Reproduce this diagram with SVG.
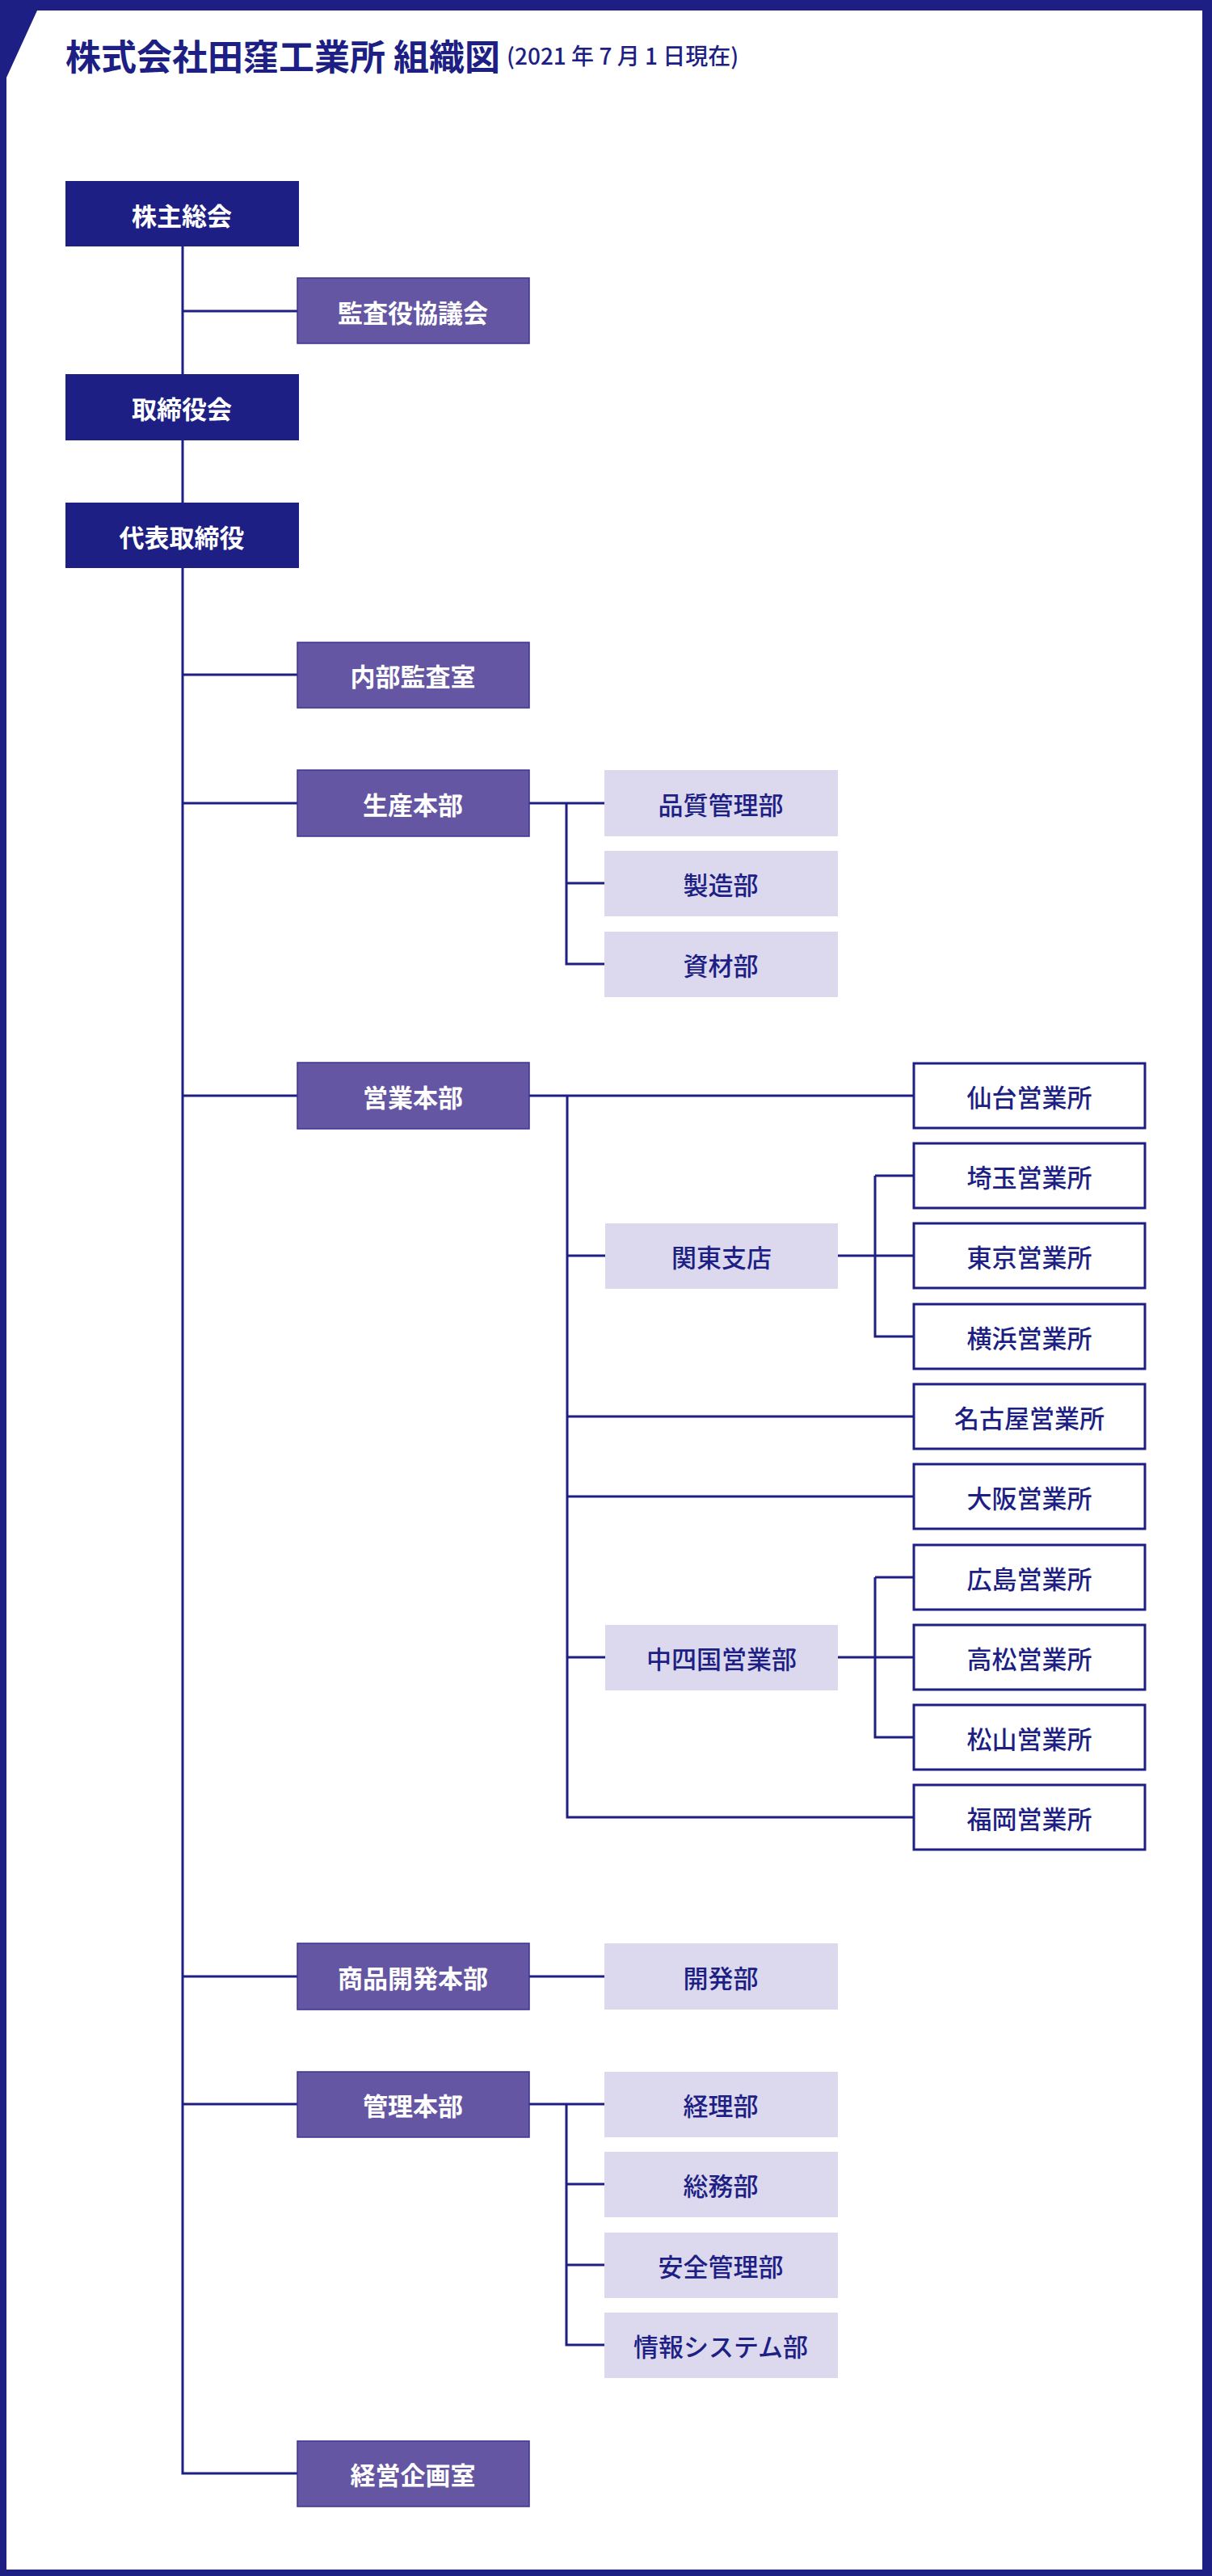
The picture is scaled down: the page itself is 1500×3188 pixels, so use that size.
<svg xmlns="http://www.w3.org/2000/svg" width="1500" height="3188" viewBox="0 0 1500 3188">
<style>
text{font-family:"Noto Sans CJK JP","Noto Sans CJK SC",sans-serif;text-anchor:middle;dominant-baseline:central;font-size:31px}
.d rect{fill:#1e1f84}.d text{fill:#fff;font-weight:bold}
.m rect{fill:#6556a3;stroke:#3d3490;stroke-width:1.5}.m text{fill:#fff;font-weight:bold}
.l rect{fill:#dcd9ee}.l text{fill:#1e1f84;font-weight:500}
.w rect{fill:#fff;stroke:#1e1f84;stroke-width:3}.w text{fill:#1e1f84;font-weight:500}
#conn path{fill:none;stroke:#1e1f84;stroke-width:3}
</style>
<rect width="1500" height="3188" fill="#1e1f84"/>
<polygon points="46,13 1488,13 1488,3180 8,3180 8,96" fill="#fff"/>
<text x="81" y="68" style="text-anchor:start;font-size:44px;font-weight:bold;fill:#1e1f84">株式会社田窪工業所 組織図<tspan style="font-size:28px;font-weight:500" dx="8">(2021 年 7 月 1 日現在)</tspan></text>
<g id="conn">
<path d="M226 305V3061H368M226 385H368M226 835H368M226 994H368M226 1356H368M226 2446H368M226 2604H368"/>
<path d="M655 994H748M701 994V1193H748M701 1093H748"/>
<path d="M655 1356H1131M702 1356V2249H1131M702 1554H749M702 1753H1131M702 1852H1131M702 2051H749M702 2249H1131"/>
<path d="M1037 1554H1131M1083 1455V1654H1131M1083 1455H1131"/>
<path d="M1037 2051H1131M1083 1952V2150H1131M1083 1952H1131"/>
<path d="M655 2446H748"/>
<path d="M655 2604H748M701 2604V2902H748M701 2703H748M701 2803H748"/>
</g>
<g id="n1" class="d"><rect x="81" y="224" width="289" height="81"/><text x="225" y="265">株主総会</text></g>
<g id="n2" class="m"><rect x="368" y="344" width="287" height="81"/><text x="511" y="385">監査役協議会</text></g>
<g id="n3" class="d"><rect x="81" y="463" width="289" height="82"/><text x="225" y="504">取締役会</text></g>
<g id="n4" class="d"><rect x="81" y="622" width="289" height="81"/><text x="225" y="663">代表取締役</text></g>
<g id="n5" class="m"><rect x="368" y="795" width="287" height="81"/><text x="511" y="835">内部監査室</text></g>
<g id="n6" class="m"><rect x="368" y="953" width="287" height="82"/><text x="511" y="994">生産本部</text></g>
<g id="n7" class="l"><rect x="748" y="953" width="289" height="82"/><text x="892" y="994">品質管理部</text></g>
<g id="n8" class="l"><rect x="748" y="1053" width="289" height="81"/><text x="892" y="1093">製造部</text></g>
<g id="n9" class="l"><rect x="748" y="1153" width="289" height="81"/><text x="892" y="1193">資材部</text></g>
<g id="n10" class="m"><rect x="368" y="1315" width="287" height="82"/><text x="511" y="1356">営業本部</text></g>
<g id="n11" class="w"><rect x="1131" y="1316" width="286" height="80"/><text x="1274" y="1356">仙台営業所</text></g>
<g id="n12" class="w"><rect x="1131" y="1415" width="286" height="80"/><text x="1274" y="1455">埼玉営業所</text></g>
<g id="n13" class="l"><rect x="749" y="1514" width="288" height="81"/><text x="893" y="1554">関東支店</text></g>
<g id="n14" class="w"><rect x="1131" y="1514" width="286" height="80"/><text x="1274" y="1554">東京営業所</text></g>
<g id="n15" class="w"><rect x="1131" y="1614" width="286" height="80"/><text x="1274" y="1654">横浜営業所</text></g>
<g id="n16" class="w"><rect x="1131" y="1713" width="286" height="80"/><text x="1274" y="1753">名古屋営業所</text></g>
<g id="n17" class="w"><rect x="1131" y="1812" width="286" height="80"/><text x="1274" y="1852">大阪営業所</text></g>
<g id="n18" class="w"><rect x="1131" y="1912" width="286" height="80"/><text x="1274" y="1952">広島営業所</text></g>
<g id="n19" class="l"><rect x="749" y="2011" width="288" height="81"/><text x="893" y="2051">中四国営業部</text></g>
<g id="n20" class="w"><rect x="1131" y="2011" width="286" height="80"/><text x="1274" y="2051">高松営業所</text></g>
<g id="n21" class="w"><rect x="1131" y="2110" width="286" height="80"/><text x="1274" y="2150">松山営業所</text></g>
<g id="n22" class="w"><rect x="1131" y="2209" width="286" height="80"/><text x="1274" y="2249">福岡営業所</text></g>
<g id="n23" class="m"><rect x="368" y="2405" width="287" height="82"/><text x="511" y="2446">商品開発本部</text></g>
<g id="n24" class="l"><rect x="748" y="2405" width="289" height="82"/><text x="892" y="2446">開発部</text></g>
<g id="n25" class="m"><rect x="368" y="2564" width="287" height="81"/><text x="511" y="2604">管理本部</text></g>
<g id="n26" class="l"><rect x="748" y="2564" width="289" height="81"/><text x="892" y="2604">経理部</text></g>
<g id="n27" class="l"><rect x="748" y="2663" width="289" height="81"/><text x="892" y="2703">総務部</text></g>
<g id="n28" class="l"><rect x="748" y="2763" width="289" height="81"/><text x="892" y="2803">安全管理部</text></g>
<g id="n29" class="l"><rect x="748" y="2862" width="289" height="81"/><text x="892" y="2902">情報システム部</text></g>
<g id="n30" class="m"><rect x="368" y="3021" width="287" height="81"/><text x="511" y="3061">経営企画室</text></g>
</svg>
